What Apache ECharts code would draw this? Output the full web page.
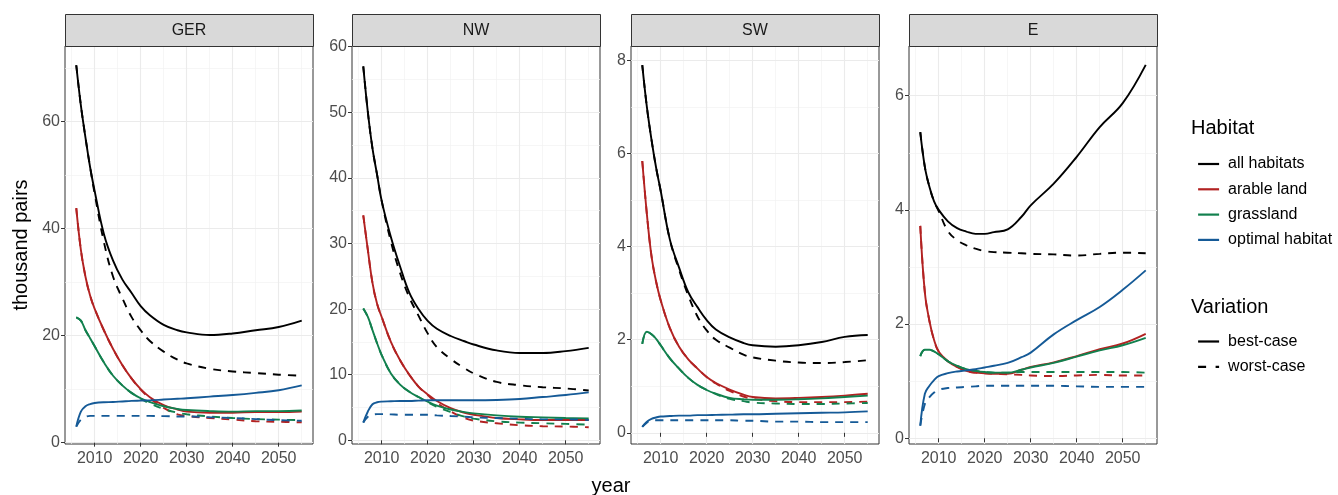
<!DOCTYPE html>
<html><head><meta charset="utf-8">
<script src="https://cdn.jsdelivr.net/npm/echarts@6/dist/echarts.min.js"></script>
<style>html,body{margin:0;padding:0;background:#fff}#c{width:1338px;height:495px}</style>
</head><body><div id="c"></div>
<script>
// ---------- data ----------
const YEARS = [2006,2007,2008,2009,2010,2012,2014,2016,2018,2020,2022,2025,2028,2030,2035,2040,2045,2050,2055];
const REGIONS = ['GER','NW','SW','E'];
const HABITATS = ['all habitats','arable land','grassland','optimal habitat'];
const VARIATIONS = ['best-case','worst-case'];
const X_TICKS = [2010,2020,2030,2040,2050];
const X_MINOR = [2005,2015,2025,2035,2045,2055];
const Y_TICKS_GER = [0,20,40,60];
const Y_MINOR_GER = [10,30,50,70];
const Y_TICKS_NW = [0,10,20,30,40,50,60];
const Y_MINOR_NW = [5,15,25,35,45,55];
const Y_TICKS_SW = [0,2,4,6,8];
const Y_MINOR_SW = [1,3,5,7];
const Y_TICKS_E = [0,2,4,6];
const Y_MINOR_E = [1,3,5];

const GER_all_best    = [70.5,63,57,51.5,47,39,34,30.5,28,25.5,23.8,22,21,20.6,20.1,20.4,21,21.6,22.8];
const GER_all_worst   = [70.5,63,57,51.5,46.5,37.5,31,27,23.5,21,19,17,15.5,14.8,13.8,13.3,13,12.7,12.5];
const GER_arable_best = [43.8,36,31,27.5,25,21,17.5,14.5,12,10,8.5,7,6.2,5.8,5.6,5.6,5.7,5.7,5.8];
const GER_arable_worst= [43.8,36,31,27.5,25,21,17.5,14.5,12,9.9,8.3,6.5,5.3,5.0,4.6,4.3,4.0,3.9,3.8];
const GER_grass_best  = [23.4,22.8,21,19.5,18,15,12.5,10.7,9.3,8.3,7.6,6.8,6.3,6.1,5.9,5.8,5.9,5.9,6.0];
const GER_grass_worst = [23.4,22.8,21,19.5,18,15,12.5,10.7,9.3,8.2,7.3,6.3,5.6,5.3,4.9,4.6,4.4,4.3,4.2];
const GER_opt_best    = [3.0,5.8,6.8,7.2,7.4,7.55,7.6,7.7,7.8,7.85,7.9,8.05,8.2,8.3,8.6,8.9,9.3,9.8,10.7];
const GER_opt_worst   = [3.0,4.3,4.8,5.0,5.0,5.0,5.0,5.0,5.0,5.0,5.0,4.95,4.9,4.9,4.75,4.6,4.4,4.2,4.1];

const NW_all_best     = [57,50,44.5,40.5,36.5,31,26.5,22.5,20.0,18.2,17.0,15.9,15.1,14.6,13.7,13.3,13.3,13.6,14.1];
const NW_all_worst    = [57,50,44.5,40.5,36.5,30.3,25.5,21.8,19.0,16.3,14.2,12.4,11,10.2,8.9,8.4,8.1,7.9,7.6];
const NW_arable_best  = [34.3,29,24,20.8,18.8,15,12.2,10,8.2,7,6,4.9,4.2,3.9,3.4,3.2,3.1,3.1,3.1];
const NW_arable_worst = [34.3,29,24,20.8,18.8,15,12.2,10,8.2,6.9,5.7,4.4,3.4,3.0,2.6,2.3,2.15,2.1,2.0];
const NW_grass_best   = [20.1,18.8,16.8,14.8,13,10.2,8.5,7.4,6.6,5.9,5.3,4.7,4.3,4.1,3.8,3.6,3.5,3.4,3.35];
const NW_grass_worst  = [20.1,18.8,16.8,14.8,13,10.2,8.5,7.4,6.6,5.8,5.1,4.3,3.6,3.3,2.9,2.7,2.6,2.5,2.4];
const NW_opt_best     = [2.7,4.4,5.5,5.8,5.9,5.95,6.0,6.0,6.05,6.1,6.1,6.1,6.1,6.1,6.15,6.3,6.6,6.9,7.3];
const NW_opt_worst    = [2.7,3.6,3.9,4.0,4.0,3.95,3.9,3.9,3.9,3.9,3.8,3.7,3.6,3.5,3.4,3.3,3.2,3.2,3.1];

const SW_all_best     = [7.9,7.0,6.3,5.7,5.2,4.15,3.55,3.02,2.7,2.42,2.22,2.05,1.93,1.88,1.85,1.88,1.95,2.06,2.1];
const SW_all_worst    = [7.9,7.0,6.3,5.7,5.2,4.15,3.5,2.95,2.5,2.2,2.0,1.83,1.68,1.62,1.55,1.51,1.5,1.52,1.56];
const SW_arable_best  = [5.84,4.7,3.8,3.25,2.85,2.25,1.85,1.58,1.38,1.2,1.07,0.93,0.82,0.77,0.74,0.75,0.77,0.8,0.84];
const SW_arable_worst = [5.84,4.7,3.8,3.25,2.85,2.25,1.85,1.58,1.38,1.2,1.06,0.9,0.78,0.73,0.68,0.66,0.66,0.66,0.67];
const SW_grass_best   = [1.91,2.17,2.12,2.02,1.88,1.6,1.38,1.18,1.03,0.92,0.84,0.75,0.72,0.71,0.71,0.72,0.74,0.77,0.8];
const SW_grass_worst  = [1.91,2.17,2.12,2.02,1.88,1.6,1.38,1.18,1.03,0.92,0.83,0.73,0.68,0.65,0.63,0.62,0.62,0.63,0.64];
const SW_opt_best     = [0.13,0.24,0.3,0.33,0.35,0.36,0.37,0.37,0.38,0.38,0.385,0.39,0.4,0.4,0.41,0.42,0.43,0.44,0.46];
const SW_opt_worst    = [0.13,0.22,0.26,0.27,0.27,0.27,0.27,0.27,0.27,0.27,0.27,0.27,0.26,0.26,0.24,0.24,0.23,0.23,0.23];

const E_all_best      = [5.36,4.75,4.4,4.15,4.0,3.8,3.68,3.62,3.58,3.58,3.61,3.66,3.88,4.08,4.46,4.93,5.45,5.87,6.54];
const E_all_worst     = [5.36,4.75,4.4,4.15,3.98,3.63,3.47,3.38,3.32,3.28,3.26,3.25,3.24,3.23,3.22,3.2,3.23,3.25,3.24];
const E_arable_best   = [3.72,2.55,2.05,1.72,1.52,1.35,1.25,1.18,1.15,1.14,1.13,1.13,1.2,1.25,1.33,1.44,1.56,1.66,1.83];
const E_arable_worst  = [3.72,2.55,2.05,1.72,1.52,1.35,1.25,1.18,1.15,1.14,1.13,1.12,1.11,1.1,1.09,1.1,1.11,1.1,1.1];
const E_grass_best    = [1.44,1.55,1.55,1.52,1.47,1.35,1.27,1.21,1.18,1.16,1.15,1.15,1.2,1.24,1.32,1.43,1.54,1.63,1.76];
const E_grass_worst   = [1.44,1.55,1.55,1.52,1.47,1.35,1.27,1.21,1.18,1.16,1.15,1.15,1.16,1.16,1.16,1.16,1.16,1.16,1.15];
const E_opt_best      = [0.22,0.78,0.92,1.02,1.09,1.14,1.17,1.19,1.21,1.24,1.27,1.32,1.42,1.5,1.82,2.07,2.3,2.6,2.94];
const E_opt_worst     = [0.22,0.6,0.72,0.8,0.85,0.88,0.89,0.9,0.91,0.92,0.92,0.92,0.92,0.92,0.92,0.91,0.9,0.9,0.9];

// ---------- layout / style ----------
const COLORS = ['#000000','#B22222','#12804E','#155A97'];
const PANEL_LEFT = [65, 352, 631, 909];
const PANEL_W = 248, PANEL_TOP = 46, PANEL_H = 398, STRIP_TOP = 14;
const X_RANGE = [2003.55, 2057.45];
const Y_RANGES = [[-0.25, 74.1], [-0.56, 60.1], [-0.24, 8.31], [-0.1, 6.87]];
const Y_TICKS = [Y_TICKS_GER, Y_TICKS_NW, Y_TICKS_SW, Y_TICKS_E];
const Y_MINOR = [Y_MINOR_GER, Y_MINOR_NW, Y_MINOR_SW, Y_MINOR_E];
const DATA = {
  GER: [[GER_all_best,GER_all_worst],[GER_arable_best,GER_arable_worst],[GER_grass_best,GER_grass_worst],[GER_opt_best,GER_opt_worst]],
  NW:  [[NW_all_best,NW_all_worst],[NW_arable_best,NW_arable_worst],[NW_grass_best,NW_grass_worst],[NW_opt_best,NW_opt_worst]],
  SW:  [[SW_all_best,SW_all_worst],[SW_arable_best,SW_arable_worst],[SW_grass_best,SW_grass_worst],[SW_opt_best,SW_opt_worst]],
  E:   [[E_all_best,E_all_worst],[E_arable_best,E_arable_worst],[E_grass_best,E_grass_worst],[E_opt_best,E_opt_worst]]
};
const FONT = 'Liberation Sans, Arial, sans-serif';
const DASH = [8, 7];
const fmt = v => String(Math.round(v * 1000) / 1000);

const grids = [], xAxes = [], yAxes = [], series = [], graphics = [];
REGIONS.forEach((r, i) => {
  grids.push({left: PANEL_LEFT[i], top: PANEL_TOP, width: PANEL_W, height: PANEL_H,
    show: true, borderColor: '#333333', borderWidth: 1, backgroundColor: '#fff', containLabel: false});
  xAxes.push({gridIndex: i, type: 'value', min: X_RANGE[0], max: X_RANGE[1],
    axisLine: {show: false},
    axisTick: {show: true, length: 4, lineStyle: {color: '#333333', width: 1}, customValues: X_TICKS},
    axisLabel: {customValues: X_TICKS, formatter: fmt, color: '#4D4D4D', fontSize: 16, fontFamily: FONT, margin: 7},
    splitLine: {show: true, lineStyle: {color: '#EBEBEB', width: 1.1}}, z: 1});
  xAxes.push({gridIndex: i, type: 'value', min: X_RANGE[0], max: X_RANGE[1],
    axisLine: {show: false}, axisTick: {show: false, customValues: X_MINOR},
    axisLabel: {show: false, customValues: X_MINOR},
    splitLine: {show: true, lineStyle: {color: '#F2F2F2', width: 0.7}}, z: 0});
  yAxes.push({gridIndex: i, type: 'value', min: Y_RANGES[i][0], max: Y_RANGES[i][1],
    axisLine: {show: false},
    axisTick: {show: true, length: 4, lineStyle: {color: '#333333', width: 1}, customValues: Y_TICKS[i]},
    axisLabel: {customValues: Y_TICKS[i], formatter: fmt, color: '#4D4D4D', fontSize: 16, fontFamily: FONT, margin: 5},
    splitLine: {show: true, lineStyle: {color: '#EBEBEB', width: 1.1}}, z: 1});
  yAxes.push({gridIndex: i, type: 'value', min: Y_RANGES[i][0], max: Y_RANGES[i][1],
    axisLine: {show: false}, axisTick: {show: false, customValues: Y_MINOR[i]},
    axisLabel: {show: false, customValues: Y_MINOR[i]},
    splitLine: {show: true, lineStyle: {color: '#F2F2F2', width: 0.7}}, z: 0});

  HABITATS.forEach((h, hi) => {
    VARIATIONS.forEach((v, vi) => {
      const vals = DATA[r][hi][vi];
      series.push({
        name: h, type: 'line', xAxisIndex: 2 * i, yAxisIndex: 2 * i,
        data: YEARS.map((y, k) => [y, vals[k]]),
        showSymbol: false, symbol: 'none', smooth: 0.4,
        lineStyle: {color: COLORS[hi], width: 1.9, type: vi === 0 ? 'solid' : DASH, cap: 'butt'},
        itemStyle: {color: COLORS[hi]},
        z: 3, silent: true
      });
    });
  });

  graphics.push({type: 'rect', shape: {x: PANEL_LEFT[i] + 0.5, y: STRIP_TOP + 0.5, width: PANEL_W, height: PANEL_TOP - STRIP_TOP},
    style: {fill: '#D9D9D9', stroke: '#333333', lineWidth: 1}, z: 10});
  graphics.push({type: 'text', x: PANEL_LEFT[i] + PANEL_W / 2, y: (STRIP_TOP + PANEL_TOP) / 2 + 1,
    style: {text: r, fill: '#1A1A1A', font: '16px ' + FONT, textAlign: 'center', textVerticalAlign: 'middle'}, z: 11});
});

VARIATIONS.forEach((v, vi) => {
  series.push({name: v, type: 'line', xAxisIndex: 0, yAxisIndex: 0, data: [], symbol: 'none',
    lineStyle: {color: '#000', width: 1.9, type: vi === 0 ? 'solid' : DASH}, itemStyle: {color: '#000'}});
});

graphics.push({type: 'text', x: 21, y: 245, rotation: Math.PI / 2,
  style: {text: 'thousand pairs', fill: '#000', font: '20px ' + FONT, textAlign: 'center', textVerticalAlign: 'middle'}});
graphics.push({type: 'text', x: 611, y: 486,
  style: {text: 'year', fill: '#000', font: '20px ' + FONT, textAlign: 'center', textVerticalAlign: 'middle'}});
graphics.push({type: 'text', x: 1191, y: 128,
  style: {text: 'Habitat', fill: '#000', font: '20px ' + FONT, textAlign: 'left', textVerticalAlign: 'middle'}});
graphics.push({type: 'text', x: 1191, y: 307,
  style: {text: 'Variation', fill: '#000', font: '20px ' + FONT, textAlign: 'left', textVerticalAlign: 'middle'}});

const legendCommon = {orient: 'vertical', left: 1192, itemWidth: 21, itemHeight: 14, itemGap: 9.3,
  selectedMode: false, itemStyle: {opacity: 0, borderWidth: 0},
  textStyle: {fontSize: 16, fontFamily: FONT, color: '#000', padding: [0, 0, 0, 4]}};

const chart = echarts.init(document.getElementById('c'), null, {renderer: 'canvas'});
chart.setOption({
  animation: false,
  grid: grids, xAxis: xAxes, yAxis: yAxes, series: series,
  legend: [
    Object.assign({}, legendCommon, {top: 151, data: HABITATS.map(n => ({name: n, lineStyle: {width: 2.2}}))}),
    Object.assign({}, legendCommon, {top: 328.5, data: [
      {name: VARIATIONS[0], lineStyle: {width: 2.2, type: 'solid'}},
      {name: VARIATIONS[1], lineStyle: {width: 2.2, type: [8, 9.5]}}
    ]})
  ],
  graphic: graphics
});
</script></body></html>
